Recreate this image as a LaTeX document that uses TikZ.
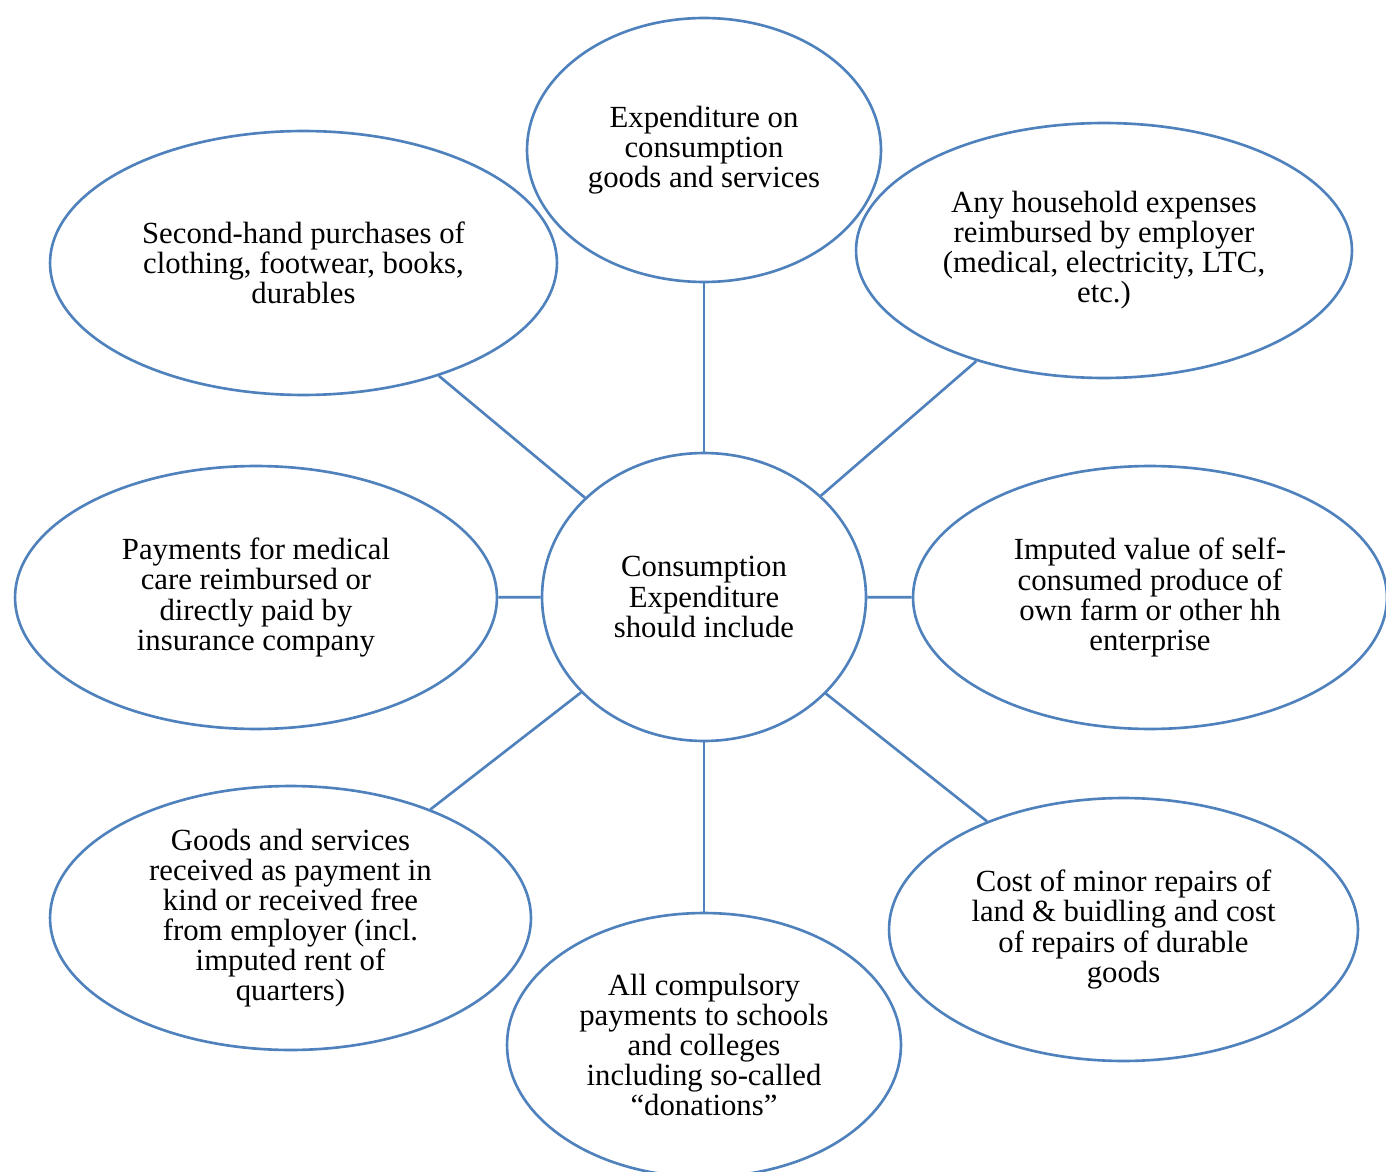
\documentclass[tikz,border=0pt]{standalone}
\usepackage{fontspec}
\setmainfont{Liberation Serif}
\usetikzlibrary{shapes.geometric}
\definecolor{outlineblue}{RGB}{79,129,189}
\tikzset{
  bubble/.style={ellipse, draw=outlineblue, line width=1.5pt, align=center,
    inner sep=0pt, font=\fontsize{17.5pt}{17.1pt}\selectfont},
  link/.style={draw=outlineblue, line width=1.5pt},
}

\begin{document}
\begin{tikzpicture}[x=0.02cm, y=-0.02cm]
  \clip (0,0) rectangle (1386,1172);

  \node[bubble, minimum width=6.48cm, minimum height=5.76cm] (core) at (704,597)
    {Consumption\\Expenditure\\should include};

  \node[bubble, minimum width=7.08cm, minimum height=5.28cm] (top) at (704,150)
    {Expenditure on\\consumption\\goods and services};
  \node[bubble, minimum width=10.14cm, minimum height=5.28cm] (topleft) at (303.5,263)
    {Second-hand purchases of\\clothing, footwear, books,\\durables};
  \node[bubble, minimum width=9.92cm, minimum height=5.1cm] (topright) at (1104,250.5)
    {Any household expenses\\reimbursed by employer\\(medical, electricity, LTC,\\etc.)};
  \node[bubble, minimum width=9.64cm, minimum height=5.26cm] (left) at (256,597.5)
    {Payments for medical\\care reimbursed or\\directly paid by\\insurance company};
  \node[bubble, minimum width=9.48cm, minimum height=5.26cm] (right) at (1150,597.5)
    {Imputed value of self-\\consumed produce of\\own farm or other hh\\enterprise};
  \node[bubble, minimum width=9.62cm, minimum height=5.28cm] (botleft) at (290.5,918)
    {Goods and services\\received as payment in\\kind or received free\\from employer (incl.\\imputed rent of\\quarters)};
  \node[bubble, minimum width=7.88cm, minimum height=5.28cm] (bottom) at (704,1045)
    {All compulsory\\payments to schools\\and colleges\\including so-called\\“donations”};
  \node[bubble, minimum width=9.38cm, minimum height=5.26cm] (botright) at (1123.5,929.5)
    {Cost of minor repairs of\\land \& buidling and cost\\of repairs of durable\\goods};

  \foreach \spoke in {top,topleft,topright,left,right,botleft,bottom,botright}
    \draw[link] (core) -- (\spoke);
\end{tikzpicture}
\end{document}
